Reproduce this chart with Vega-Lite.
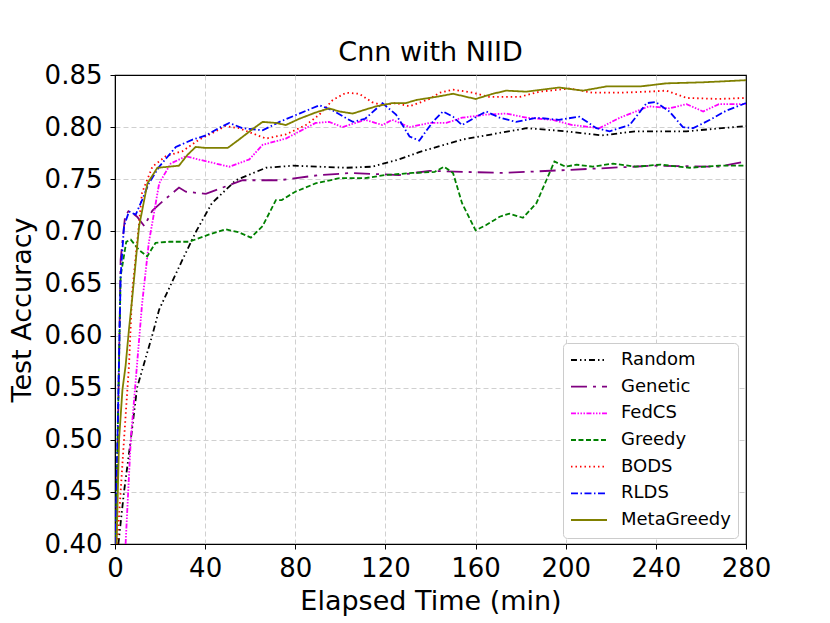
{
  "$schema": "https://vega.github.io/schema/vega-lite/v6.json",
  "autosize": {"type": "none"},
  "width": 631,
  "height": 469,
  "padding": {"left": 115, "top": 75, "right": 84, "bottom": 79},
  "title": {"text": "Cnn with NIID", "fontSize": 27, "font": "DejaVu Sans", "fontWeight": "normal", "offset": -5, "color": "#000000"},
  "data": {
    "values": [
      {"method": "Random", "t": 1.5, "acc": 0.40}, {"method": "Random", "t": 4, "acc": 0.45}, {"method": "Random", "t": 7, "acc": 0.50},
      {"method": "Random", "t": 9.8, "acc": 0.55}, {"method": "Random", "t": 16.5, "acc": 0.60}, {"method": "Random", "t": 19.6, "acc": 0.625},
      {"method": "Random", "t": 30, "acc": 0.673}, {"method": "Random", "t": 36, "acc": 0.70}, {"method": "Random", "t": 43, "acc": 0.727},
      {"method": "Random", "t": 53.6, "acc": 0.749}, {"method": "Random", "t": 67, "acc": 0.761}, {"method": "Random", "t": 79, "acc": 0.763},
      {"method": "Random", "t": 102.6, "acc": 0.761}, {"method": "Random", "t": 114, "acc": 0.762}, {"method": "Random", "t": 126, "acc": 0.769},
      {"method": "Random", "t": 135, "acc": 0.776}, {"method": "Random", "t": 154, "acc": 0.788}, {"method": "Random", "t": 182.6, "acc": 0.799},
      {"method": "Random", "t": 200, "acc": 0.796}, {"method": "Random", "t": 216, "acc": 0.792}, {"method": "Random", "t": 231, "acc": 0.796},
      {"method": "Random", "t": 253.6, "acc": 0.796}, {"method": "Random", "t": 280, "acc": 0.801},

      {"method": "Genetic", "t": 0.5, "acc": 0.40}, {"method": "Genetic", "t": 2.5, "acc": 0.673}, {"method": "Genetic", "t": 4.5, "acc": 0.715},
      {"method": "Genetic", "t": 6.2, "acc": 0.72}, {"method": "Genetic", "t": 9.8, "acc": 0.714}, {"method": "Genetic", "t": 13, "acc": 0.705},
      {"method": "Genetic", "t": 16.6, "acc": 0.72}, {"method": "Genetic", "t": 21.8, "acc": 0.73}, {"method": "Genetic", "t": 28.4, "acc": 0.742},
      {"method": "Genetic", "t": 31.4, "acc": 0.738}, {"method": "Genetic", "t": 40.3, "acc": 0.736}, {"method": "Genetic", "t": 49, "acc": 0.743},
      {"method": "Genetic", "t": 56.6, "acc": 0.749}, {"method": "Genetic", "t": 73, "acc": 0.749}, {"method": "Genetic", "t": 90.7, "acc": 0.754},
      {"method": "Genetic", "t": 105, "acc": 0.756}, {"method": "Genetic", "t": 126, "acc": 0.754}, {"method": "Genetic", "t": 139.6, "acc": 0.758},
      {"method": "Genetic", "t": 172, "acc": 0.756}, {"method": "Genetic", "t": 202, "acc": 0.759}, {"method": "Genetic", "t": 239, "acc": 0.763},
      {"method": "Genetic", "t": 268, "acc": 0.762}, {"method": "Genetic", "t": 280, "acc": 0.767},

      {"method": "FedCS", "t": 4.7, "acc": 0.40}, {"method": "FedCS", "t": 7, "acc": 0.50}, {"method": "FedCS", "t": 12, "acc": 0.63},
      {"method": "FedCS", "t": 15, "acc": 0.689}, {"method": "FedCS", "t": 19.6, "acc": 0.746}, {"method": "FedCS", "t": 24.7, "acc": 0.765},
      {"method": "FedCS", "t": 31.4, "acc": 0.772}, {"method": "FedCS", "t": 37, "acc": 0.769}, {"method": "FedCS", "t": 50.7, "acc": 0.762},
      {"method": "FedCS", "t": 59.6, "acc": 0.769}, {"method": "FedCS", "t": 65.5, "acc": 0.783}, {"method": "FedCS", "t": 75.8, "acc": 0.789},
      {"method": "FedCS", "t": 89, "acc": 0.804}, {"method": "FedCS", "t": 95, "acc": 0.805}, {"method": "FedCS", "t": 101, "acc": 0.800},
      {"method": "FedCS", "t": 111, "acc": 0.807}, {"method": "FedCS", "t": 118.7, "acc": 0.802}, {"method": "FedCS", "t": 123, "acc": 0.807},
      {"method": "FedCS", "t": 130.7, "acc": 0.800}, {"method": "FedCS", "t": 139.6, "acc": 0.804}, {"method": "FedCS", "t": 147, "acc": 0.804},
      {"method": "FedCS", "t": 154, "acc": 0.809}, {"method": "FedCS", "t": 164.7, "acc": 0.812}, {"method": "FedCS", "t": 173.6, "acc": 0.813},
      {"method": "FedCS", "t": 182.6, "acc": 0.809}, {"method": "FedCS", "t": 194, "acc": 0.807}, {"method": "FedCS", "t": 203, "acc": 0.802},
      {"method": "FedCS", "t": 215, "acc": 0.799}, {"method": "FedCS", "t": 224, "acc": 0.809}, {"method": "FedCS", "t": 237, "acc": 0.820},
      {"method": "FedCS", "t": 246, "acc": 0.818}, {"method": "FedCS", "t": 253.6, "acc": 0.822}, {"method": "FedCS", "t": 261, "acc": 0.815},
      {"method": "FedCS", "t": 268, "acc": 0.822}, {"method": "FedCS", "t": 280, "acc": 0.822},

      {"method": "Greedy", "t": 0.3, "acc": 0.40}, {"method": "Greedy", "t": 2.5, "acc": 0.657}, {"method": "Greedy", "t": 5, "acc": 0.69},
      {"method": "Greedy", "t": 7, "acc": 0.692}, {"method": "Greedy", "t": 10.7, "acc": 0.682}, {"method": "Greedy", "t": 14.3, "acc": 0.676},
      {"method": "Greedy", "t": 18, "acc": 0.689}, {"method": "Greedy", "t": 24, "acc": 0.69}, {"method": "Greedy", "t": 32.9, "acc": 0.69},
      {"method": "Greedy", "t": 41.8, "acc": 0.697}, {"method": "Greedy", "t": 49, "acc": 0.702}, {"method": "Greedy", "t": 55, "acc": 0.699},
      {"method": "Greedy", "t": 60.3, "acc": 0.694}, {"method": "Greedy", "t": 65.5, "acc": 0.705}, {"method": "Greedy", "t": 71.4, "acc": 0.73},
      {"method": "Greedy", "t": 74, "acc": 0.73}, {"method": "Greedy", "t": 80, "acc": 0.738}, {"method": "Greedy", "t": 89, "acc": 0.746},
      {"method": "Greedy", "t": 99.6, "acc": 0.751}, {"method": "Greedy", "t": 111, "acc": 0.751}, {"method": "Greedy", "t": 120, "acc": 0.754},
      {"method": "Greedy", "t": 132, "acc": 0.756}, {"method": "Greedy", "t": 141.8, "acc": 0.757}, {"method": "Greedy", "t": 146, "acc": 0.762},
      {"method": "Greedy", "t": 150, "acc": 0.756}, {"method": "Greedy", "t": 154, "acc": 0.727}, {"method": "Greedy", "t": 160, "acc": 0.701},
      {"method": "Greedy", "t": 164.7, "acc": 0.706}, {"method": "Greedy", "t": 170.7, "acc": 0.714}, {"method": "Greedy", "t": 175, "acc": 0.717},
      {"method": "Greedy", "t": 181, "acc": 0.713}, {"method": "Greedy", "t": 187, "acc": 0.727}, {"method": "Greedy", "t": 191.4, "acc": 0.749},
      {"method": "Greedy", "t": 195, "acc": 0.767}, {"method": "Greedy", "t": 200, "acc": 0.762}, {"method": "Greedy", "t": 204.7, "acc": 0.764},
      {"method": "Greedy", "t": 212, "acc": 0.762}, {"method": "Greedy", "t": 221, "acc": 0.765}, {"method": "Greedy", "t": 231, "acc": 0.762},
      {"method": "Greedy", "t": 242, "acc": 0.764}, {"method": "Greedy", "t": 255, "acc": 0.761}, {"method": "Greedy", "t": 268, "acc": 0.763},
      {"method": "Greedy", "t": 280, "acc": 0.763},

      {"method": "BODS", "t": 1, "acc": 0.40}, {"method": "BODS", "t": 4, "acc": 0.50}, {"method": "BODS", "t": 6.2, "acc": 0.571},
      {"method": "BODS", "t": 7.6, "acc": 0.641}, {"method": "BODS", "t": 12, "acc": 0.737}, {"method": "BODS", "t": 16.6, "acc": 0.762},
      {"method": "BODS", "t": 22.5, "acc": 0.772}, {"method": "BODS", "t": 30, "acc": 0.777}, {"method": "BODS", "t": 37.3, "acc": 0.788},
      {"method": "BODS", "t": 44.7, "acc": 0.796}, {"method": "BODS", "t": 49, "acc": 0.801}, {"method": "BODS", "t": 55, "acc": 0.799},
      {"method": "BODS", "t": 61, "acc": 0.794}, {"method": "BODS", "t": 67, "acc": 0.789}, {"method": "BODS", "t": 75.8, "acc": 0.793},
      {"method": "BODS", "t": 84.7, "acc": 0.802}, {"method": "BODS", "t": 90.7, "acc": 0.812}, {"method": "BODS", "t": 96.6, "acc": 0.826},
      {"method": "BODS", "t": 102.5, "acc": 0.833}, {"method": "BODS", "t": 108.4, "acc": 0.832}, {"method": "BODS", "t": 114, "acc": 0.824},
      {"method": "BODS", "t": 118.7, "acc": 0.821}, {"method": "BODS", "t": 124.7, "acc": 0.823}, {"method": "BODS", "t": 130.7, "acc": 0.820},
      {"method": "BODS", "t": 139.6, "acc": 0.827}, {"method": "BODS", "t": 144, "acc": 0.833}, {"method": "BODS", "t": 150, "acc": 0.836},
      {"method": "BODS", "t": 158.8, "acc": 0.833}, {"method": "BODS", "t": 166, "acc": 0.829}, {"method": "BODS", "t": 179.6, "acc": 0.829},
      {"method": "BODS", "t": 188.4, "acc": 0.834}, {"method": "BODS", "t": 201.8, "acc": 0.837}, {"method": "BODS", "t": 212, "acc": 0.833},
      {"method": "BODS", "t": 224, "acc": 0.833}, {"method": "BODS", "t": 236, "acc": 0.834}, {"method": "BODS", "t": 244.7, "acc": 0.835},
      {"method": "BODS", "t": 253.6, "acc": 0.828}, {"method": "BODS", "t": 268, "acc": 0.827}, {"method": "BODS", "t": 280, "acc": 0.828},

      {"method": "RLDS", "t": 0.2, "acc": 0.40}, {"method": "RLDS", "t": 2.5, "acc": 0.657}, {"method": "RLDS", "t": 4, "acc": 0.705},
      {"method": "RLDS", "t": 6.2, "acc": 0.719}, {"method": "RLDS", "t": 9.2, "acc": 0.716}, {"method": "RLDS", "t": 12, "acc": 0.730},
      {"method": "RLDS", "t": 15, "acc": 0.746}, {"method": "RLDS", "t": 19.6, "acc": 0.762}, {"method": "RLDS", "t": 27, "acc": 0.781},
      {"method": "RLDS", "t": 34.4, "acc": 0.788}, {"method": "RLDS", "t": 40.3, "acc": 0.792}, {"method": "RLDS", "t": 46, "acc": 0.799},
      {"method": "RLDS", "t": 50.7, "acc": 0.804}, {"method": "RLDS", "t": 56.6, "acc": 0.799}, {"method": "RLDS", "t": 65.5, "acc": 0.797},
      {"method": "RLDS", "t": 73, "acc": 0.805}, {"method": "RLDS", "t": 81.8, "acc": 0.813}, {"method": "RLDS", "t": 90.7, "acc": 0.821},
      {"method": "RLDS", "t": 96.6, "acc": 0.816}, {"method": "RLDS", "t": 105.5, "acc": 0.805}, {"method": "RLDS", "t": 111, "acc": 0.808},
      {"method": "RLDS", "t": 118.7, "acc": 0.823}, {"method": "RLDS", "t": 124.7, "acc": 0.812}, {"method": "RLDS", "t": 130.7, "acc": 0.791},
      {"method": "RLDS", "t": 135, "acc": 0.787}, {"method": "RLDS", "t": 141, "acc": 0.805}, {"method": "RLDS", "t": 145.5, "acc": 0.815},
      {"method": "RLDS", "t": 150, "acc": 0.810}, {"method": "RLDS", "t": 154, "acc": 0.802}, {"method": "RLDS", "t": 159.6, "acc": 0.809},
      {"method": "RLDS", "t": 164.7, "acc": 0.815}, {"method": "RLDS", "t": 170.7, "acc": 0.809}, {"method": "RLDS", "t": 178, "acc": 0.805},
      {"method": "RLDS", "t": 187, "acc": 0.809}, {"method": "RLDS", "t": 197, "acc": 0.807}, {"method": "RLDS", "t": 206, "acc": 0.810},
      {"method": "RLDS", "t": 213.6, "acc": 0.799}, {"method": "RLDS", "t": 219.5, "acc": 0.796}, {"method": "RLDS", "t": 228.4, "acc": 0.802},
      {"method": "RLDS", "t": 235.9, "acc": 0.823}, {"method": "RLDS", "t": 240, "acc": 0.824}, {"method": "RLDS", "t": 246, "acc": 0.815},
      {"method": "RLDS", "t": 252, "acc": 0.800}, {"method": "RLDS", "t": 256.6, "acc": 0.799}, {"method": "RLDS", "t": 264, "acc": 0.807},
      {"method": "RLDS", "t": 271.4, "acc": 0.816}, {"method": "RLDS", "t": 280, "acc": 0.823},

      {"method": "MetaGreedy", "t": 0.7, "acc": 0.40}, {"method": "MetaGreedy", "t": 1.8, "acc": 0.50}, {"method": "MetaGreedy", "t": 3.3, "acc": 0.548},
      {"method": "MetaGreedy", "t": 4.7, "acc": 0.571}, {"method": "MetaGreedy", "t": 6.2, "acc": 0.606}, {"method": "MetaGreedy", "t": 7.6, "acc": 0.635},
      {"method": "MetaGreedy", "t": 10.7, "acc": 0.705}, {"method": "MetaGreedy", "t": 14.4, "acc": 0.746}, {"method": "MetaGreedy", "t": 18.8, "acc": 0.761},
      {"method": "MetaGreedy", "t": 24, "acc": 0.762}, {"method": "MetaGreedy", "t": 28.4, "acc": 0.763}, {"method": "MetaGreedy", "t": 32, "acc": 0.773},
      {"method": "MetaGreedy", "t": 35.8, "acc": 0.781}, {"method": "MetaGreedy", "t": 40.3, "acc": 0.780}, {"method": "MetaGreedy", "t": 50, "acc": 0.780},
      {"method": "MetaGreedy", "t": 55, "acc": 0.788}, {"method": "MetaGreedy", "t": 61, "acc": 0.798}, {"method": "MetaGreedy", "t": 65.5, "acc": 0.805},
      {"method": "MetaGreedy", "t": 71.4, "acc": 0.804}, {"method": "MetaGreedy", "t": 75.8, "acc": 0.802}, {"method": "MetaGreedy", "t": 81.8, "acc": 0.808},
      {"method": "MetaGreedy", "t": 89, "acc": 0.814}, {"method": "MetaGreedy", "t": 95, "acc": 0.818}, {"method": "MetaGreedy", "t": 99.6, "acc": 0.815},
      {"method": "MetaGreedy", "t": 105.5, "acc": 0.813}, {"method": "MetaGreedy", "t": 111.4, "acc": 0.817}, {"method": "MetaGreedy", "t": 116, "acc": 0.820},
      {"method": "MetaGreedy", "t": 123, "acc": 0.823}, {"method": "MetaGreedy", "t": 129, "acc": 0.823}, {"method": "MetaGreedy", "t": 133.6, "acc": 0.826},
      {"method": "MetaGreedy", "t": 142.5, "acc": 0.829}, {"method": "MetaGreedy", "t": 150, "acc": 0.832}, {"method": "MetaGreedy", "t": 160, "acc": 0.827},
      {"method": "MetaGreedy", "t": 167.7, "acc": 0.832}, {"method": "MetaGreedy", "t": 173.6, "acc": 0.835}, {"method": "MetaGreedy", "t": 182.5, "acc": 0.834},
      {"method": "MetaGreedy", "t": 197, "acc": 0.838}, {"method": "MetaGreedy", "t": 207.7, "acc": 0.835}, {"method": "MetaGreedy", "t": 218, "acc": 0.839},
      {"method": "MetaGreedy", "t": 233, "acc": 0.839}, {"method": "MetaGreedy", "t": 244.7, "acc": 0.842}, {"method": "MetaGreedy", "t": 261, "acc": 0.843},
      {"method": "MetaGreedy", "t": 280, "acc": 0.845}
    ]
  },
  "mark": {"type": "line", "strokeWidth": 1.8, "clip": true},
  "encoding": {
    "x": {
      "field": "t",
      "type": "quantitative",
      "title": "Elapsed Time (min)",
      "scale": {"domain": [0, 280], "nice": false, "zero": false},
      "axis": {
        "values": [0, 40, 80, 120, 160, 200, 240, 280],
        "labelFlush": false,
        "labelOverlap": false,
        "gridOpacity": {"condition": {"test": "datum.value <= 0 || datum.value >= 280", "value": 0}, "value": 1}
      }
    },
    "y": {
      "field": "acc",
      "type": "quantitative",
      "title": "Test Accuracy",
      "scale": {"domain": [0.4, 0.85], "nice": false, "zero": false},
      "axis": {
        "values": [0.4, 0.45, 0.5, 0.55, 0.6, 0.65, 0.7, 0.75, 0.8, 0.85],
        "format": ".2f",
        "labelFlush": false,
        "labelOverlap": false,
        "gridOpacity": {"condition": {"test": "datum.value <= 0.401 || datum.value >= 0.849", "value": 0}, "value": 1}
      }
    },
    "color": {
      "field": "method",
      "type": "nominal",
      "title": null,
      "scale": {
        "domain": ["Random", "Genetic", "FedCS", "Greedy", "BODS", "RLDS", "MetaGreedy"],
        "range": ["#000000", "#800080", "#ff00ff", "#008000", "#ff0000", "#0000ff", "#808000"]
      }
    },
    "strokeDash": {
      "field": "method",
      "type": "nominal",
      "title": null,
      "scale": {
        "domain": ["Random", "Genetic", "FedCS", "Greedy", "BODS", "RLDS", "MetaGreedy"],
        "range": [[6, 3, 1.5, 3, 1.5, 3], [16, 6, 3, 6], [5, 1.5, 1.5, 1.5, 1.5, 1.5, 1.5, 1.5], [5, 2.5], [1.5, 3], [7, 2.5, 1.5, 2.5], [1, 0]]
      }
    }
  },
  "config": {
    "font": "DejaVu Sans",
    "view": {"stroke": "#000000", "strokeWidth": 1.2},
    "axis": {
      "labelFontSize": 26,
      "titleFontSize": 27,
      "titleFontWeight": "normal",
      "labelColor": "#000000",
      "titleColor": "#000000",
      "domainColor": "#000000",
      "tickColor": "#000000",
      "tickSize": 5,
      "gridColor": "#d0d0d0",
      "gridDash": [5, 3],
      "gridWidth": 1
    },
    "axisY": {"titlePadding": 8, "labelPadding": 8},
    "axisX": {"titlePadding": 7, "labelPadding": 6},
    "legend": {
      "orient": "none",
      "legendX": 448,
      "legendY": 268,
      "padding": 7,
      "strokeColor": "#cccccc",
      "fillColor": "#ffffff",
      "cornerRadius": 4,
      "symbolType": "stroke",
      "symbolSize": 1300,
      "symbolStrokeWidth": 1.8,
      "clipHeight": 20,
      "labelFontSize": 18,
      "labelColor": "#000000",
      "rowPadding": 6.67,
      "labelOffset": 13
    }
  }
}
